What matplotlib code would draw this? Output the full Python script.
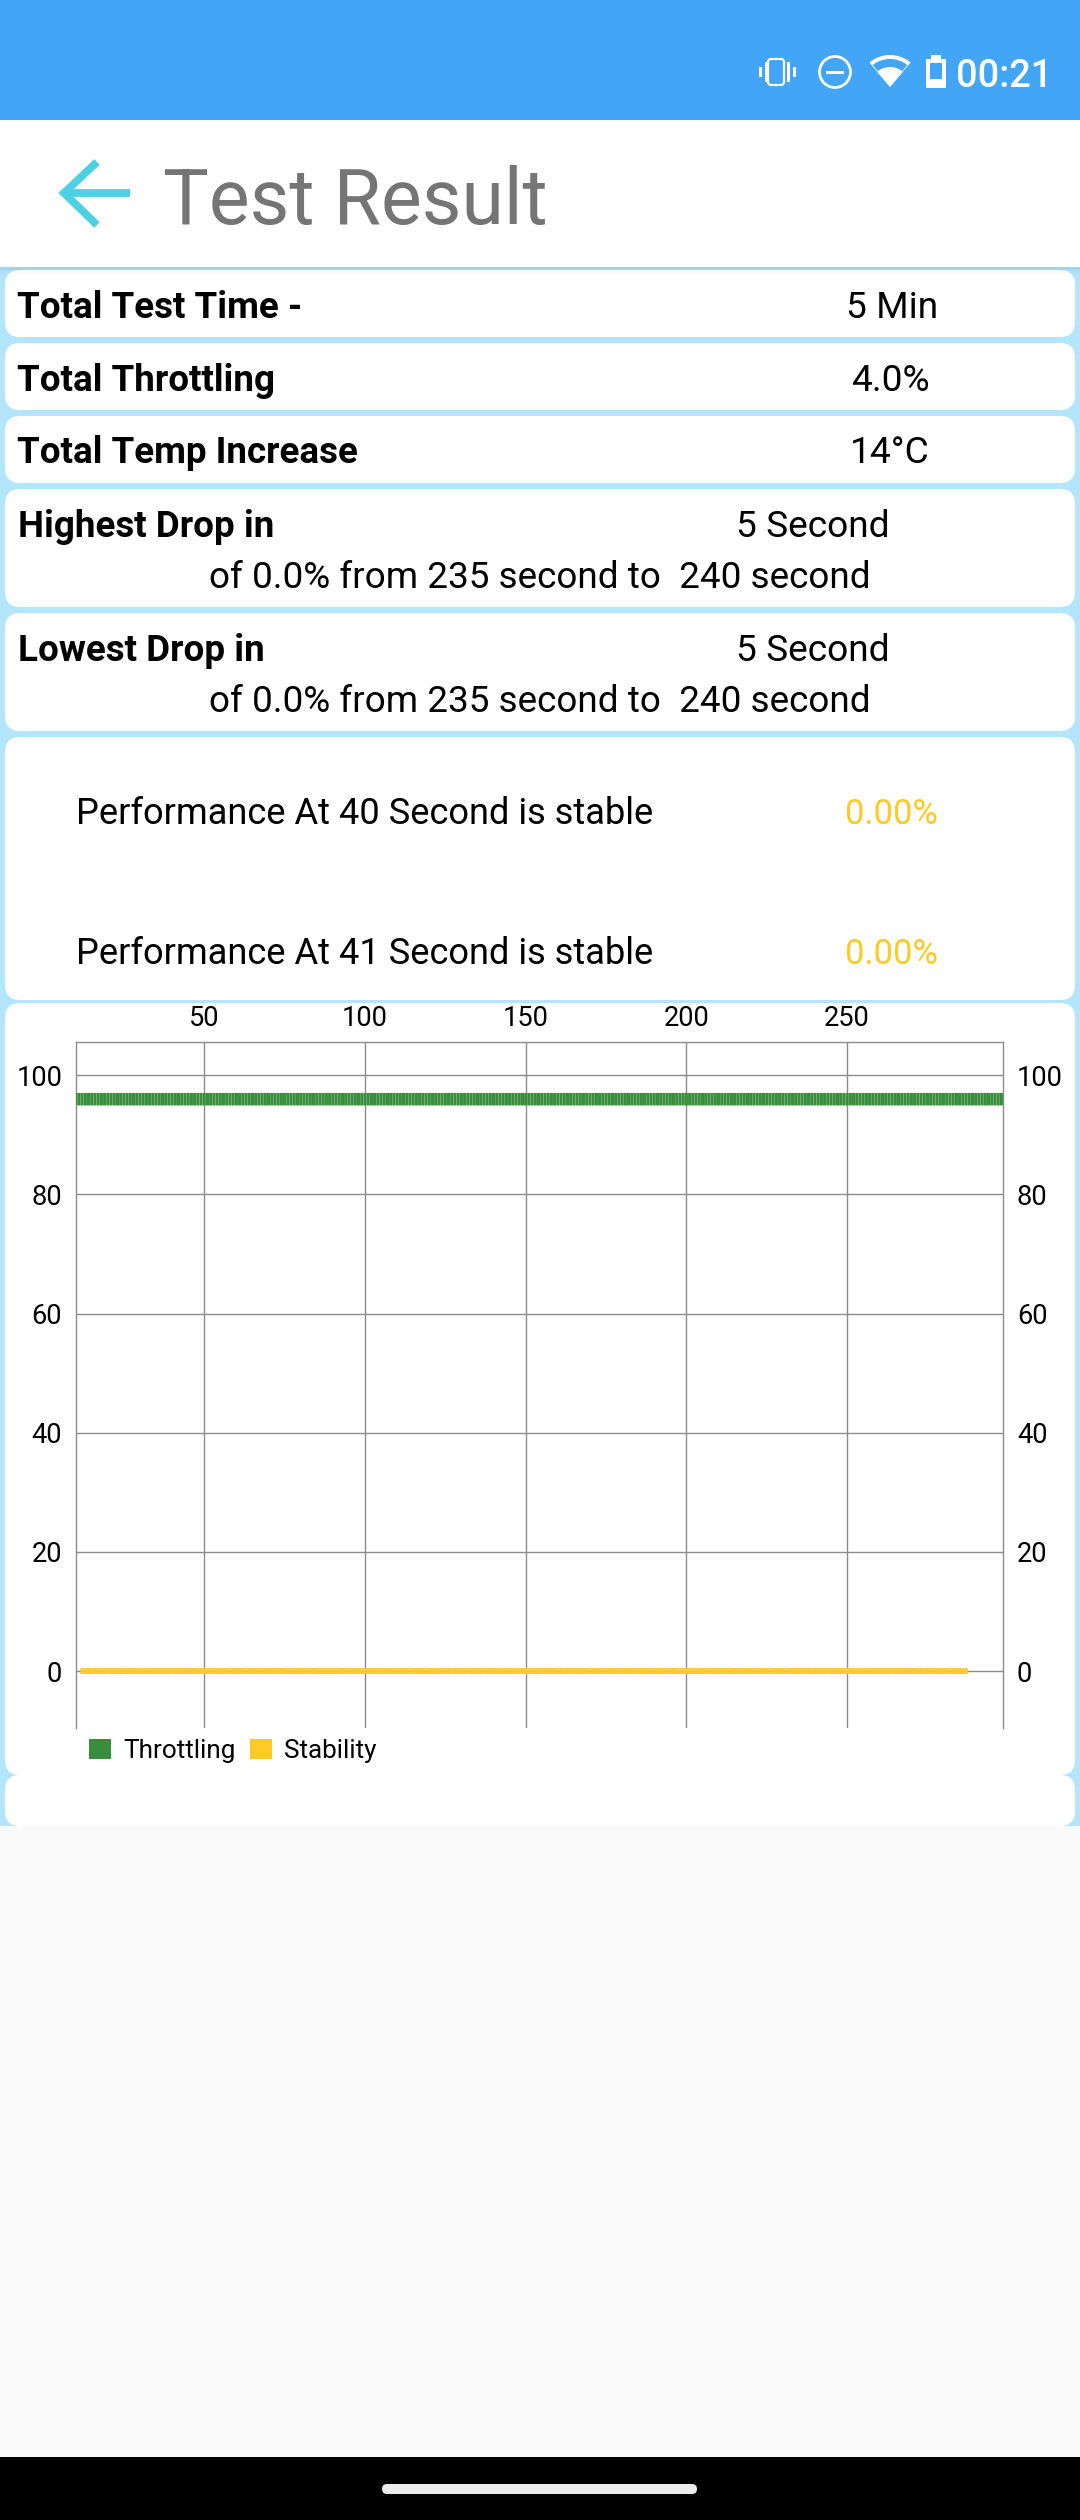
import numpy as np
import matplotlib
matplotlib.use("Agg")
from matplotlib import pyplot as plt
from matplotlib.patches import FancyBboxPatch, Rectangle, Circle, Wedge, Patch

plt.rcParams['font.family'] = ['Roboto', 'DejaVu Sans']

# chart data
seconds = np.arange(10, 300)
throttling = [96.0] * len(seconds)
stab_seconds = np.arange(12, 288)
stability = [0.0] * len(stab_seconds)
x_ticks = [50, 100, 150, 200, 250]
y_ticks = [0, 20, 40, 60, 80, 100]
legend_labels = ["Throttling", "Stability"]

# text of the screen
rows = ["Total Test Time -", "Total Throttling", "Total Temp Increase"]
row_values = ["5 Min", "4.0%", "14°C"]
drops = ["Highest Drop in", "Lowest Drop in"]
drop_value = "5 Second"
drop_detail = "of 0.0% from 235 second to  240 second"
perf = ["Performance At 40 Second is stable", "Performance At 41 Second is stable"]
perf_value = "0.00%"

GREEN = "#388E3C"
YELLOW = "#FFCA28"
GRID = "#8C8C8C"
BLUE = "#42A5F5"
PALE = "#B3E5FC"

fig = plt.figure(figsize=(10.8, 25.2), dpi=100, facecolor="#FAFAFA")

# whole screen in pixels, y going down
ui = fig.add_axes([0, 0, 1, 1])
ui.set_xlim(0, 1080); ui.set_ylim(2520, 0); ui.axis("off")

def box(x0, y0, x1, y1, c, **kw):
    ui.add_patch(Rectangle((x0, y0), x1 - x0, y1 - y0, fc=c, ec="none", **kw))

def card(y0, y1):
    r = 15
    ui.add_patch(FancyBboxPatch((5 + r, y0 + r), 1070 - 2 * r, y1 - y0 - 2 * r,
                                boxstyle="round,pad=%d,rounding_size=%d" % (r, r),
                                fc="white", ec="none"))

box(0, 0, 1080, 120, BLUE)
box(0, 120, 1080, 267, "white")
box(0, 267, 1080, 1826, PALE)
box(0, 2457, 1080, 2520, "black")
ui.add_patch(FancyBboxPatch((387, 2489), 305, 0, boxstyle="round,pad=5,rounding_size=5",
                            fc="#ECECEC", ec="none"))

for y0, y1 in [(270, 337), (343, 410), (416, 483), (489, 607), (613, 731),
               (737, 1000), (1003, 1775), (1775, 1826)]:
    card(y0, y1)

# toolbar shadow
box(0, 267, 1080, 270, "#A3D4EC")
for i in range(6):
    box(0, 270 + i, 1080, 271 + i, "black", alpha=0.03 - 0.005 * i)

# status bar icons
ui.add_patch(FancyBboxPatch((770, 61), 12, 22, boxstyle="round,pad=2,rounding_size=3",
                            fc="none", ec="white", lw=1.6))
for bx, h in [(759, 10), (765, 20), (787, 20), (793, 10)]:
    box(bx, 72 - h / 2, bx + 3, 72 + h / 2, "white")
ui.add_patch(Circle((835, 72), 15.5, fc="none", ec="white", lw=2))
box(826, 70.5, 844, 73.5, "white")
ui.add_patch(Wedge((890, 87), 32, 230, 310, fc="white", ec="none"))
ui.add_patch(Wedge((890, 87), 28, 232, 308, fc=BLUE, ec="none"))
ui.add_patch(Wedge((890, 87), 20, 230, 310, fc="white", ec="none"))
box(931, 55, 941, 60, "white")
ui.add_patch(FancyBboxPatch((927, 60), 18, 27, boxstyle="round,pad=1,rounding_size=1",
                            fc="white", ec="none"))
box(930, 63, 942, 79, BLUE)
ui.text(1052, 87, "00:21", fontsize=27.3, color="white", weight="medium", ha="right", va="baseline")

# back arrow and title
ui.plot([130, 66], [193, 193], color="#4DD0E1", lw=5.6, solid_capstyle="butt")
ui.plot([97, 64, 97], [162, 193, 225], color="#4DD0E1", lw=5.6,
        solid_capstyle="butt", solid_joinstyle="miter")
ui.text(163, 224, "Test Result", fontsize=55.4, color="#757575", va="baseline")

# cards text
for name, val, y, vx in zip(rows, row_values, [318, 391, 463], [892, 890, 890]):
    ui.text(17, y, name, fontsize=26.5, weight="bold", color="black", va="baseline")
    ui.text(vx, y, val, fontsize=26.7, color="black", ha="center", va="baseline")
for name, y in zip(drops, [537, 661]):
    ui.text(18, y, name, fontsize=26.5, weight="bold", color="black", va="baseline")
    ui.text(813, y, drop_value, fontsize=26.7, color="black", ha="center", va="baseline")
    ui.text(209, y + 51, drop_detail, fontsize=26.55, color="black", va="baseline")
for name, y in zip(perf, [824, 964]):
    ui.text(76, y, name, fontsize=26.1, color="black", va="baseline")
    ui.text(891, y, perf_value, fontsize=24.9, color=YELLOW, ha="center", va="baseline")

# the chart, axes box set from the pixel frame
left, right, top, bottom = 76, 1003, 1042, 1728
ax = fig.add_axes([left / 1080, 1 - bottom / 2520, (right - left) / 1080, (bottom - top) / 2520])
ax.patch.set_alpha(0)
ax.bar(seconds, [2.1] * len(seconds), bottom=np.array(throttling) - 1.05,
       width=0.97, color=GREEN, zorder=3, snap=False)
ax.bar(stab_seconds, [1.0] * len(stab_seconds), bottom=np.array(stability) - 0.5,
       width=0.97, color=YELLOW, zorder=3, snap=False)
ax.set_xlim(10.1, 298.5)
ax.set_ylim(-9.56, 105.6)
ax.set_xticks(x_ticks)
ax.set_yticks(y_ticks)
ax.grid(True, color=GRID, lw=1.0)
ax.set_axisbelow(True)
ax.tick_params(axis="both", length=0, labelsize=19.6, labelcolor="black")
ax.tick_params(axis="x", bottom=False, labelbottom=False, top=False, labeltop=True, pad=7)
ax.tick_params(axis="y", left=False, right=False, labelleft=True, labelright=True, pad=10)
ax.spines["bottom"].set_visible(False)
for s in ["left", "right", "top"]:
    ax.spines[s].set_color(GRID)
    ax.spines[s].set_linewidth(1.0)

handles = [Patch(fc=GREEN, ec="none"), Patch(fc=YELLOW, ec="none")]
fig.legend(handles, legend_labels, loc="center left", bbox_to_anchor=(89 / 1080, 1 - 1751 / 2520),
           ncol=2, frameon=False, fontsize=18.8, handlelength=0.84, handleheight=0.84,
           handletextpad=0.49, columnspacing=0.52, borderpad=0, borderaxespad=0)

fig.savefig("out.png", dpi=100, facecolor=fig.get_facecolor())
